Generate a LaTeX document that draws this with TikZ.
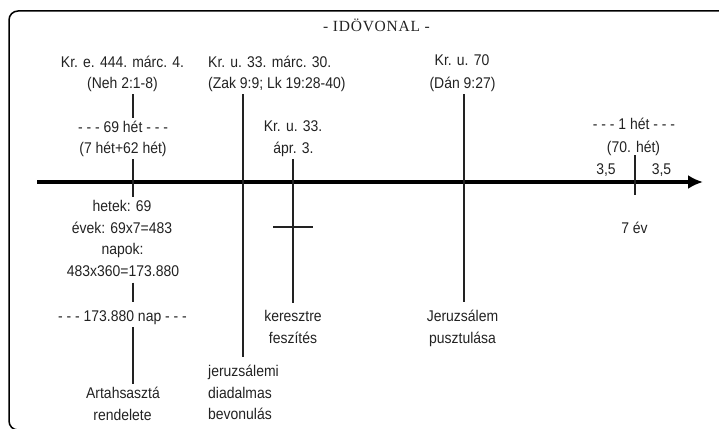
\documentclass[tikz,border=0pt]{standalone}
\usepackage{fontspec}
\setmainfont[FakeStretch=0.9]{Liberation Sans}
\newfontfamily\titlefont[LetterSpace=5]{Liberation Serif}
\usetikzlibrary{arrows.meta}
\definecolor{ink}{HTML}{222222}
\tikzset{
  txt/.style={font=\fontsize{15.5pt}{17pt}\selectfont, text=ink, text height=11pt, text depth=3pt, inner xsep=1pt, inner ysep=3pt, anchor=base},
  ltxt/.style={txt, anchor=base west},
  vline/.style={draw=ink, line width=1.8pt},
  axisline/.style={draw=black, line width=3.2pt, -{Latex[length=15pt,width=14pt]}},
  frameline/.style={draw=black, line width=1.5pt, rounded corners=9pt}
}
\begin{document}
\begin{tikzpicture}[x=1pt,y=-1pt]
\useasboundingbox (0,0) rectangle (719,428);
\begin{scope}
  \clip (0,0) rectangle (719,428);
  \draw[frameline] (60,430) -- (9,430) -- (9,11) -- (740,11);
\end{scope}
% title
\node[txt, font=\titlefont\fontsize{15.5pt}{17pt}\selectfont] (title) at (376.5,32) {- IDÖVONAL -};
% x positions of the vertical lines
\coordinate (x1) at (133,0);
\coordinate (x2) at (243,0);
\coordinate (x4) at (464,0);
\coordinate (x5) at (635,0);
% group 1
\node[txt] (t1a) at (122.5,67) {Kr. e. 444. márc. 4.};
\node[txt] (t1b) at (122.5,88) {(Neh 2:1-8)};
\node[txt] (t1c) at (123,132) {- - - 69 hét - - -};
\node[txt] (t1d) at (123,153) {(7 hét+62 hét)};
\node[txt] (b1a) at (122,211.5) {hetek: 69};
\node[txt] (b1b) at (122,233) {évek: 69x7=483};
\node[txt] (b1c) at (122.5,254.5) {napok:};
\node[txt] (b1d) at (123,276.5) {483x360=173.880};
\node[txt] (b1e) at (122.5,321) {- - - 173.880 nap - - -};
\node[txt] (b1f) at (123,398) {Artahsasztá};
\node[txt] (b1g) at (122.5,420) {rendelete};
% group 2
\node[ltxt] (t2a) at (207,67) {Kr. u. 33. márc. 30.};
\node[ltxt] (t2b) at (207,88) {(Zak 9:9; Lk 19:28-40)};
\node[ltxt] (b2a) at (207,376) {jeruzsálemi};
\node[ltxt] (b2b) at (207,398) {diadalmas};
\node[ltxt] (b2c) at (207,419.5) {bevonulás};
% group 3
\node[txt] (t3a) at (293,131) {Kr. u. 33.};
\node[txt] (t3b) at (293.5,153) {ápr. 3.};
\node[txt] (b3a) at (293,321) {keresztre};
\node[txt] (b3b) at (293,343) {feszítés};
% group 4
\node[txt] (t4a) at (462,66) {Kr. u. 70};
\node[txt] (t4b) at (462.5,88) {(Dán 9:27)};
\node[txt] (b4a) at (462.5,321) {Jeruzsálem};
\node[txt] (b4b) at (462.5,343) {pusztulása};
% group 5
\node[txt] (t5a) at (634,129) {- - - 1 hét - - -};
\node[txt] (t5b) at (633.5,152) {(70. hét)};
\node[txt] (h1) at (606,174) {3,5};
\node[txt] (h2) at (661.5,174) {3,5};
\node[txt] (b5) at (634.5,233) {7 év};
\coordinate (e5) at (635,195);
% axis
\coordinate (axL) at (37,182);
\coordinate (axR) at (703,182);
\draw[axisline] (axL) -- (axR);
% vertical connectors
\draw[vline] (t1b.south -| x1) -- (t1c.north -| x1);
\draw[vline] (t1d.south -| x1) -- (b1a.north -| x1);
\draw[vline] (b1d.south -| x1) -- ([yshift=5pt]b1e.north -| x1);
\draw[vline] (b1e.south -| x1) -- (b1f.north -| x1);
\draw[vline] (t2b.south -| x2) -- ([yshift=5pt]b2a.north -| x2);
\draw[vline] (t3b.south -| t3a.south) -- ([yshift=4pt]b3a.north);
\draw[vline] (t4b.south -| x4) -- ([yshift=5pt]b4a.north -| x4);
\draw[vline] ([yshift=3pt]t5b.south -| x5) -- (e5);
% cross
\coordinate (crL) at (273,227);
\coordinate (crR) at (313,227);
\draw[vline] (crL) -- (crR);
\end{tikzpicture}
\end{document}
